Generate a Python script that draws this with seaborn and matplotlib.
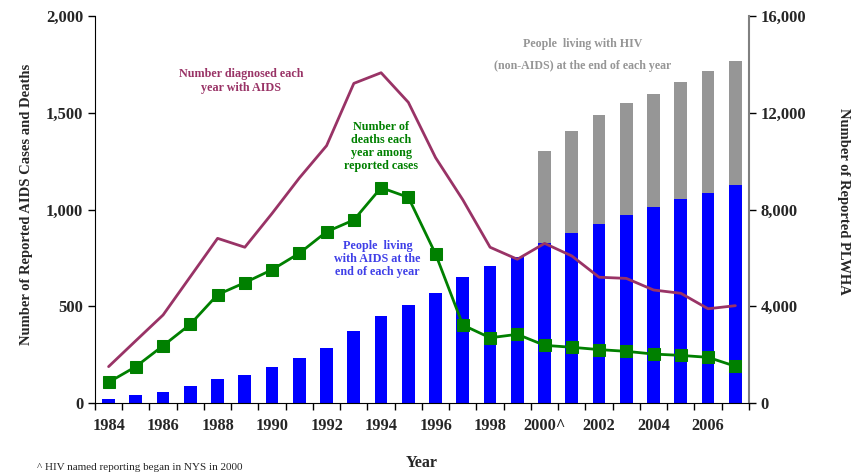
import numpy as np
import pandas as pd
import seaborn as sns
import matplotlib.pyplot as plt

years = list(range(1984, 2008))
year_labels = ["1984", "1986", "1988", "1990", "1992", "1994", "1996",
               "1998", "2000^", "2002", "2004", "2006"]

# people living with AIDS at end of year (right axis)
plwa = [165, 330, 455, 715, 1005, 1170, 1475, 1860, 2285, 2990, 3600, 4050,
        4560, 5200, 5660, 6050, 6615, 7030, 7410, 7760, 8115, 8445, 8695, 9010]
# people living with HIV (non-AIDS), only reported from 2000
plwh_hiv = [0] * 16 + [3805, 4215, 4480, 4630, 4660, 4835, 5015, 5130]
# number diagnosed each year (left axis)
diagnosed = [188, 322, 455, 653, 851, 805, 980, 1163, 1330, 1652, 1707, 1554,
             1268, 1050, 805, 743, 825, 760, 650, 644, 584, 567, 487, 503]
# deaths each year among reported cases (left axis)
deaths = [107, 188, 296, 407, 560, 622, 689, 774, 885, 946, 1113, 1063,
          770, 403, 337, 355, 298, 288, 276, 267, 253, 246, 236, 190]

df = pd.DataFrame({"Year": years, "PLWA": plwa, "HIV": plwh_hiv,
                   "Diagnosed": diagnosed, "Deaths": deaths})
df["Total"] = df["PLWA"] + df["HIV"]

sns.set_style("white")
plt.rcParams["font.family"] = ["Liberation Serif", "DejaVu Serif"]
plt.rcParams["font.weight"] = "bold"

fig, ax = plt.subplots(figsize=(8.54, 4.72), dpi=100)
fig.subplots_adjust(left=0.1112, right=0.877, bottom=0.1462, top=0.966)
ax2 = ax.twinx()

# bars on the right axis (grey total first, then blue AIDS on top)
sns.barplot(data=df, x="Year", y="Total", native_scale=True, color="#969696",
            saturation=1, width=0.47, linewidth=0, ax=ax2)
sns.barplot(data=df, x="Year", y="PLWA", native_scale=True, color="#0000FF",
            saturation=1, width=0.47, linewidth=0, ax=ax2)

# lines on the left axis
sns.lineplot(data=df, x="Year", y="Diagnosed", color="#993366", lw=2, ax=ax)
sns.lineplot(data=df, x="Year", y="Deaths", color="#008000", lw=2,
             marker="s", markersize=8, markeredgecolor="#008000", ax=ax)

ax.set_zorder(ax2.get_zorder() + 1)
ax.patch.set_visible(False)

ax.set_xlim(1983.5, 2007.5)
ax.set_ylim(0, 2000)
ax2.set_ylim(0, 16000)

ax.set_xticks(years[::2])
ax.set_xticklabels(year_labels, fontsize=11.8, fontweight="bold")
ax.set_xticks([y - 0.5 for y in years] + [2007.5], minor=True)
ax.tick_params(axis="x", which="major", length=0, pad=11)
ax.tick_params(axis="x", which="minor", length=5, width=1, direction="out",
               color="black", bottom=True)

ax.set_yticks([0, 500, 1000, 1500, 2000])
ax.set_yticklabels(["0", "500", "1,000", "1,500", "2,000"], fontsize=12,
                   fontweight="bold")
ax.tick_params(axis="y", length=5, width=1, direction="out", color="black",
               left=True)
ax2.set_yticks([0, 4000, 8000, 12000, 16000])
ax2.set_yticklabels(["0", "4,000", "8,000", "12,000", "16,000"], fontsize=12,
                    fontweight="bold")
ax2.tick_params(axis="y", length=5, width=1, direction="out", color="black",
                right=True)

for a in (ax, ax2):
    a.spines["top"].set_visible(False)
ax.spines["left"].set_color("black")
ax.spines["bottom"].set_color("black")
ax.spines["right"].set_visible(False)
ax2.spines["left"].set_visible(False)
ax2.spines["bottom"].set_visible(False)
ax2.spines["right"].set_color("#808080")
ax2.spines["right"].set_linewidth(1.5)

ax.set_xlabel("Year", fontsize=11.5, fontweight="bold", labelpad=15)
ax.set_ylabel("Number of Reported AIDS Cases and Deaths", fontsize=10.5,
              fontweight="bold")
ax.yaxis.set_label_coords(-0.094, 0.514)
ax2.set_ylabel("Number of Reported PLWHA", fontsize=10.5, fontweight="bold",
               rotation=-90, va="bottom")
ax2.yaxis.set_label_coords(1.134, 0.52)

ax.text(1988.85, 1664, "Number diagnosed each\nyear with AIDS", color="#993366",
        fontsize=8.7, fontweight="bold", ha="center", va="center",
        linespacing=1.25)
ax.text(1994.0, 1325, "Number of\ndeaths each\nyear among\nreported cases",
        color="#008000", fontsize=8.7, fontweight="bold", ha="center",
        va="center", linespacing=1.12)
ax.text(1993.87, 744, "People  living\nwith AIDS at the\nend of each year",
        color="#4040E8", fontsize=8.7, fontweight="bold", ha="center",
        va="center", linespacing=1.12)
ax.text(2001.4, 1798, "People  living with HIV\n\n(non-AIDS) at the end of each year",
        color="#969696", fontsize=8.6, fontweight="bold", ha="center",
        va="center", linespacing=0.9)

fig.text(0.043, 0.0, "^ HIV named reporting began in NYS in 2000",
         fontsize=8, fontweight="normal", ha="left", va="bottom")

fig.savefig("out.png", dpi=100)
